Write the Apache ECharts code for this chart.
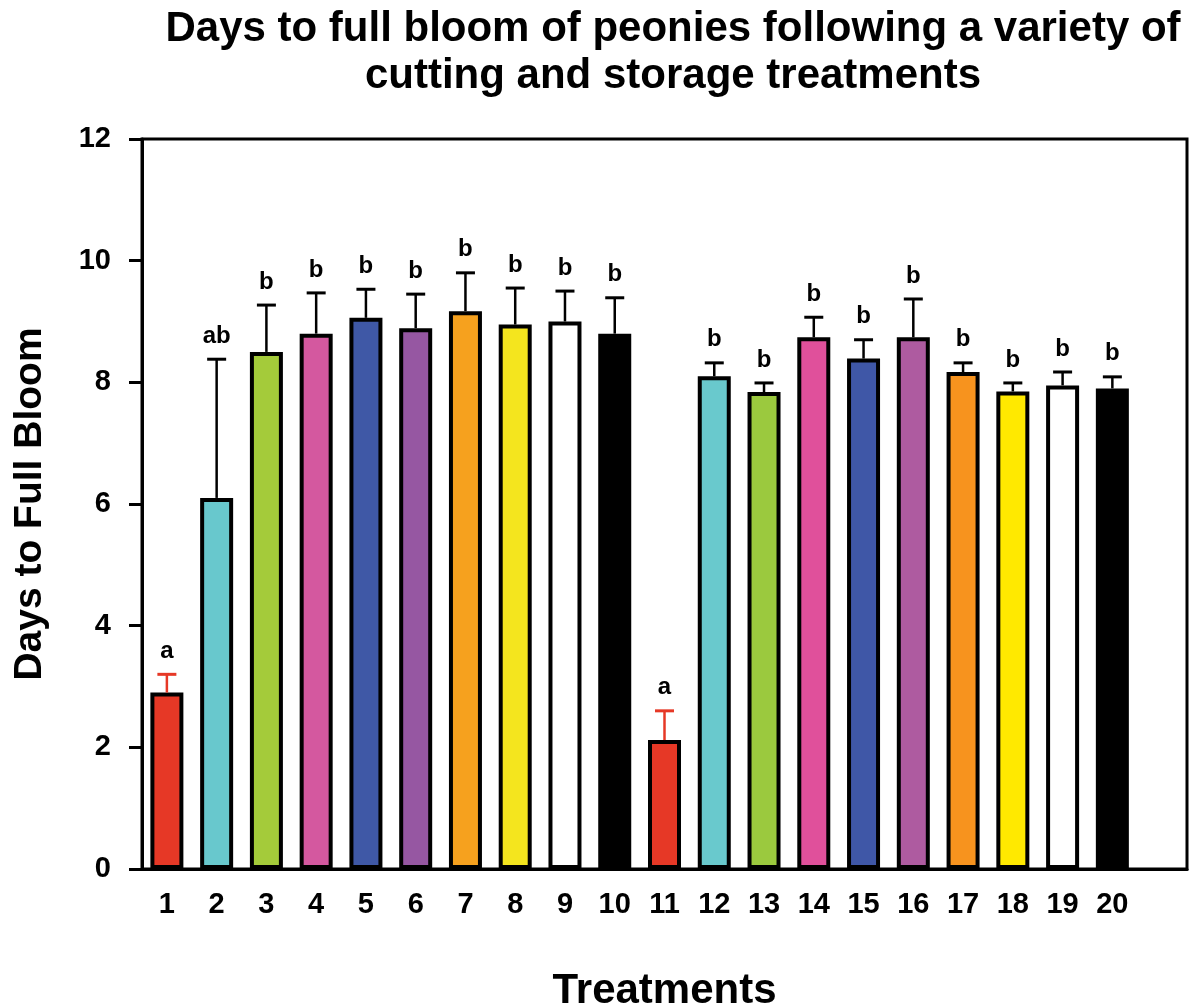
<!DOCTYPE html>
<html>
<head>
<meta charset="utf-8">
<script src="https://cdn.jsdelivr.net/npm/echarts@6/dist/echarts.min.js"></script>
<style>
html,body{margin:0;padding:0;background:#fff;}
#chart{width:1190px;height:1007px;}
</style>
</head>
<body>
<div id="chart"></div>
<script>
// ---- data ----
var treatments = ['1','2','3','4','5','6','7','8','9','10','11','12','13','14','15','16','17','18','19','20',''];
var meanDays = [2.9, 6.1, 8.5, 8.8, 9.06, 8.89, 9.17, 8.95, 9.0, 8.8, 2.12, 8.1, 7.84, 8.74, 8.39, 8.74, 8.17, 7.85, 7.95, 7.9];
var seDays = [0.3, 2.28, 0.77, 0.67, 0.47, 0.56, 0.63, 0.6, 0.5, 0.59, 0.48, 0.22, 0.15, 0.33, 0.31, 0.63, 0.15, 0.14, 0.22, 0.19];
var groupLetters = ['a','ab','b','b','b','b','b','b','b','b','a','b','b','b','b','b','b','b','b','b'];
var yTicks = [0, 2, 4, 6, 8, 10, 12];

var barColors = ['#E63826','#68C8CD','#A4CB3A','#D4589F','#3F58A6','#9657A2','#F6A11E','#F4E51E','#FFFFFF','#000000',
                 '#E63826','#69C9CD','#9BC93E','#E0509B','#3F57A7','#AE5BA0','#F7931E','#FFE900','#FFFFFF','#000000'];
var errColors = ['#E63826','#000','#000','#000','#000','#000','#000','#000','#000','#000',
                 '#E63826','#000','#000','#000','#000','#000','#000','#000','#000','#000'];

var FONT = '"Liberation Sans", Arial, Helvetica, sans-serif';

var chart = echarts.init(document.getElementById('chart'), null, {renderer: 'canvas'});

var barData = meanDays.map(function (v, i) {
  return {value: v, itemStyle: {color: barColors[i]}};
});
var errData = meanDays.map(function (v, i) {
  return [i, v, v + seDays[i]];
});

var option = {
  backgroundColor: '#fff',
  animation: false,
  title: {
    text: 'Days to full bloom of peonies following a variety of\ncutting and storage treatments',
    left: 668,
    textAlign: 'center',
    top: 1,
    textStyle: {fontFamily: FONT, fontWeight: 'bold', fontSize: 42, lineHeight: 47, color: '#000'}
  },
  grid: {
    left: 142, top: 139, right: 3, bottom: 138,
    show: true, borderColor: '#000', borderWidth: 3, backgroundColor: 'transparent',
    containLabel: false,
    outerBoundsMode: 'none'
  },
  xAxis: {
    type: 'category',
    data: treatments,
    name: 'Treatments',
    nameLocation: 'middle',
    nameGap: 101,
    nameTextStyle: {fontFamily: FONT, fontWeight: 'bold', fontSize: 42, color: '#000'},
    axisLine: {lineStyle: {color: '#000', width: 3}},
    axisTick: {alignWithLabel: true, length: 11, lineStyle: {color: '#000', width: 3}},
    axisLabel: {fontFamily: FONT, fontWeight: 'bold', fontSize: 29, color: '#000', margin: 21, interval: 0},
    splitLine: {show: false}
  },
  yAxis: {
    type: 'value',
    min: 0, max: 12, interval: 2,
    name: 'Days to Full Bloom',
    nameLocation: 'middle',
    nameGap: 92,
    nameRotate: 90,
    nameTextStyle: {fontFamily: FONT, fontWeight: 'bold', fontSize: 39, color: '#000'},
    axisLine: {show: true, lineStyle: {color: '#000', width: 3}},
    axisTick: {show: true, length: 13, lineStyle: {color: '#000', width: 3}},
    axisLabel: {fontFamily: FONT, fontWeight: 'bold', fontSize: 29, color: '#000', margin: 31,
      formatter: function (v) { return yTicks.indexOf(v) >= 0 ? String(v) : ''; }},
    splitLine: {show: false}
  },
  series: [
    {
      type: 'bar',
      data: barData,
      barWidth: 33,
      itemStyle: {borderColor: '#000', borderWidth: 4},
      z: 2
    },
    {
      type: 'custom',
      data: errData,
      z: 3,
      renderItem: function (params, api) {
        var i = api.value(0);
        var lo = api.coord([i, api.value(1)]);
        var hi = api.coord([i, api.value(2)]);
        var c = errColors[params.dataIndex];
        var half = 9.5;
        return {
          type: 'group',
          children: [
            {type: 'line', shape: {x1: lo[0], y1: lo[1], x2: hi[0], y2: hi[1]},
              style: {stroke: c, lineWidth: 2.5}},
            {type: 'line', shape: {x1: hi[0] - half, y1: hi[1], x2: hi[0] + half, y2: hi[1]},
              style: {stroke: c, lineWidth: 3}},
            {type: 'text', x: hi[0], y: hi[1] - 11,
              style: {text: groupLetters[params.dataIndex], fill: '#000', font: 'bold 24px ' + FONT,
                align: 'center', verticalAlign: 'bottom'}}
          ]
        };
      }
    }
  ]
};
chart.setOption(option);
</script>
</body>
</html>
